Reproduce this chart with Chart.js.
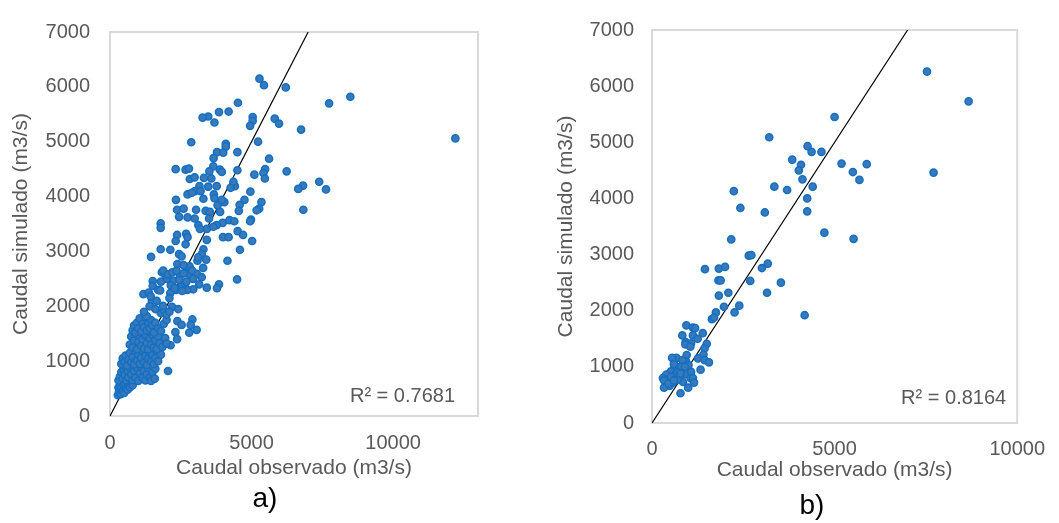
<!DOCTYPE html>
<html>
<head>
<meta charset="utf-8">
<script src="https://cdn.jsdelivr.net/npm/chart.js@4.4.0/dist/chart.umd.min.js"></script>
<style>
  body { margin: 0; background: #fff; width: 1059px; height: 523px; position: relative; overflow: hidden; }
  canvas { position: absolute; top: 0; }
  .tag { position: absolute; font-family: "Liberation Sans", Arial, sans-serif; font-size: 28px; color: #000; transform: translate(-50%, -50%); }
</style>
</head>
<body>
<canvas id="chartA" width="500" height="485" style="left:0"></canvas>
<canvas id="chartB" width="519" height="490" style="left:540px"></canvas>
<div class="tag" style="left:265px; top:498px">a)</div>
<div class="tag" style="left:812px; top:505px">b)</div>
<script>
// observed vs simulated discharge (m3/s), panel a
var obsA = [
  5280,5440,6210,8490,7740,4520,4190,3850,3470,3270,3690,5040,5040,4950,5820,5970,6750,12200,
  2870,5230,4090,4090,4500,3780,4000,3660,5620,2320,2670,2790,4500,5480,5420,5100,5470,6240,
  3650,3510,3880,3950,3320,3580,2820,2990,7390,6820,6650,7630,6830,3160,3470,3000,3200,2740,
  2890,3770,3670,3690,4410,4360,4260,4960,4750,4580,4550,5350,5270,5180,2330,2370,2600,3040,
  2440,2740,2990,3300,3380,3530,3500,3800,3890,4040,3950,3980,4220,4390,4980,4950,1790,1790,
  2370,2690,2740,2320,2670,3770,3650,3420,3120,3180,4510,4700,3990,4190,3420,5020,1790,2130,
  1450,2440,2530,2380,3300,3240,3090,3400,4150,4590,3110,3290,3070,3240,4490,3850,3420,3780,
  2940,2740,2810,2800,2470,2540,2730,2240,1830,1940,2000,1800,1510,1510,1880,2130,2340,1180,
  1370,1480,1440,2190,1790,1900,2100,2410,2910,2850,2800,3060,2380,2530,2310,2370,2140,2050,
  2050,2200,2350,2600,2450,2150,2650,2280,2550,1700,2600,2900,3150,2700,1770,2940,
  280,300,320,350,380,400,420,450,480,500,520,560,600,620,650,700,720,760,800,
  300,350,400,450,480,520,550,580,620,650,700,750,800,850,900,950,1000,1050,1100,1150,1200,
  1250,1300,1350,1400,1450,1500,1580,1600,
  400,450,500,550,600,650,700,750,800,850,900,950,1000,1050,1100,1150,1200,1250,1300,1350,
  1400,1450,1500,1550,1600,1650,1700,1800,
  700,750,800,850,900,950,1000,1050,1100,1150,1200,1250,1300,1350,1400,1450,1500,1550,1600,
  1650,1700,1750,1850,1950,2000,
  800,850,900,950,1000,1050,1100,1150,1200,1250,1300,1350,1400,1450,1500,1550,1600,1700,1800,
  1900,2000,1300,
  1200,1400,1600,1650,2000,1870,2100
];
var simA = [
  6150,6030,5990,5820,5700,5710,5550,5540,5460,5440,5350,5450,5380,5290,5420,5330,5220,5060,
  4990,5000,4960,4910,4810,4810,4800,4700,4690,4500,4490,4510,4480,4500,4430,4400,4330,4460,
  4550,4460,4490,4450,4340,4330,4320,4350,4270,4200,4140,4130,3760,4190,4180,4100,4100,4040,
  4070,4190,4040,3970,4190,4270,4160,4090,3940,3850,3740,3900,3780,3750,3940,3760,3780,3760,
  3630,3620,3600,3960,3740,3720,3600,3840,3720,3900,3940,3520,3570,3550,3580,3550,3510,3430,
  3300,3320,3260,3190,3130,3480,3450,3410,3480,3410,3370,3300,3260,3260,3210,3190,3040,3030,
  2900,2950,2910,2770,3040,2950,2830,2850,2830,3030,2890,2700,2590,2530,2490,2400,2340,2330,
  2310,2710,2730,2590,2560,2390,2300,2470,2620,2590,2500,2450,2460,2370,2650,2240,2300,2220,
  2250,2100,2180,1990,1880,1930,2150,1950,1760,1660,1520,1570,1730,1660,1530,1400,1290,820,
  2580,2620,2650,2600,2480,2380,2420,2330,2280,2300,2750,2650,2400,2450,2290,2500,
  380,520,450,560,400,500,620,450,560,420,600,500,640,480,580,520,650,600,560,
  650,720,800,680,850,750,900,650,820,700,880,760,650,820,700,880,640,780,900,700,820,
  650,760,880,700,640,800,680,860,
  950,1050,980,1100,920,1030,1150,980,1080,940,1180,1020,1120,950,1060,1190,980,1100,930,1050,
  1160,1000,1120,950,1060,1180,1000,1120,
  1300,1450,1250,1380,1500,1220,1350,1460,1280,1400,1230,1480,1330,1210,1420,1300,1480,1250,1380,
  1220,1450,1330,1260,1420,1320,
  1560,1650,1520,1700,1600,1780,1540,1680,1620,1800,1560,1700,1600,1750,1650,1520,1700,1600,1550,
  1680,1750,1820,
  1900,2000,1950,2100,1850,2010,1900
];

// panel b
var obsB = [
  7530,8670,5000,3210,4260,4370,4640,3840,4080,4020,4120,5190,5880,5500,5680,7710,3350,3700,
  4400,2240,4250,2420,3090,4250,4720,5520,2170,2650,2720,3010,3170,3530,3150,4180,1450,1830,
  2000,1820,1880,2690,1830,2090,2390,2260,1970,1750,1640,1700,940,1120,1180,830,1120,1390,
  1250,920,1070,1500,1440,1410,1260,1440,1560,1330,950,930,1000,670,550,830,740,610,520,390,
  300,650,740,850,920,1070,1060,1120,1150,850,570,430,480,330,330,990,780,700,520,
  915,1050,600,800,700,900,450,600,780
];
var simB = [
  6260,5730,5450,5090,4930,4830,4830,4690,4600,4500,4340,4620,4610,4470,4330,4460,4210,4150,
  4210,4130,4000,3830,3750,3770,3390,3280,3270,2980,2990,2760,2840,2500,2320,1920,2740,2750,
  2780,2540,2540,2530,2270,2320,2090,1970,2070,1970,1850,1880,1740,1700,1690,1560,1560,1600,
  1500,1440,1420,1410,1330,1220,1150,1120,1080,950,1210,1100,1030,1160,1160,1120,990,980,920,860,
  800,870,830,920,870,910,800,800,720,730,720,750,660,760,630,630,530,770,820,
  1400,1360,1050,1000,900,1000,700,760,880
];

var r2A = 0.7681;
var r2B = 0.8164;
var oneToOne = [0, 7000];
var xTicks = [0, 5000, 10000];
var yTicks = [0, 1000, 2000, 3000, 4000, 5000, 6000, 7000];

var FONT = '"Liberation Sans", Arial, sans-serif';
var GREY = '#595959';

function pairs(xs, ys) {
  return xs.map(function (x, i) { return { x: x, y: ys[i] }; });
}

function fixedTicks(list) {
  return function (s) { s.ticks = list.map(function (v) { return { value: v }; }); };
}

// light grey box round the plot area
var frame = {
  id: 'frame',
  beforeDatasetsDraw: function (chart) {
    var a = chart.chartArea, ctx = chart.ctx;
    ctx.save();
    ctx.strokeStyle = '#d9d9d9';
    ctx.lineWidth = 2;
    ctx.strokeRect(a.left, a.top, a.right - a.left, a.bottom - a.top);
    ctx.restore();
  }
};

// R² label in the lower right corner
var r2Label = {
  id: 'r2Label',
  afterDatasetsDraw: function (chart, args, opts) {
    var a = chart.chartArea, ctx = chart.ctx;
    ctx.save();
    ctx.font = '20px ' + FONT;
    ctx.fillStyle = GREY;
    ctx.textAlign = 'right';
    ctx.textBaseline = 'middle';
    ctx.fillText('R² = ' + opts.value.toFixed(4), a.right - opts.dx, a.bottom - opts.dy);
    ctx.restore();
  }
};

function plain(v) { return String(v); }

function makeChart(id, obs, sim, r2, cfg) {
  return new Chart(id, {
    type: 'scatter',
    data: {
      datasets: [{
        data: pairs(obs, sim),
        backgroundColor: '#3a78b8',
        borderColor: '#1170c4',
        borderWidth: 1.5,
        pointRadius: 3.6,
        order: 0
      }, {
        type: 'line',
        data: oneToOne.map(function (v) { return { x: v, y: v }; }),
        borderColor: '#000',
        borderWidth: 1.2,
        pointRadius: 0,
        fill: false,
        order: 1
      }]
    },
    options: {
      responsive: false,
      animation: false,
      layout: { padding: { top: 22, right: cfg.right, left: 0, bottom: 0 } },
      plugins: {
        legend: { display: false },
        tooltip: { enabled: false },
        r2Label: { value: r2, dx: cfg.r2dx, dy: cfg.r2dy }
      },
      scales: {
        x: {
          type: 'linear',
          min: 0,
          max: cfg.xMax,
          grid: { display: false, drawTicks: false },
          border: { display: false },
          afterBuildTicks: fixedTicks(xTicks),
          ticks: { padding: cfg.xPad, color: GREY, font: { family: FONT, size: 20 }, callback: plain },
          title: { display: true, text: 'Caudal observado (m3/s)', color: GREY, font: { family: FONT, size: 21 }, padding: { top: 0, bottom: cfg.xTitlePad } },
          afterFit: function (s) { s.height = cfg.xHeight; }
        },
        y: {
          type: 'linear',
          min: 0,
          max: 7000,
          grid: { display: false, drawTicks: false },
          border: { display: false },
          afterBuildTicks: fixedTicks(yTicks),
          ticks: { padding: cfg.yPad, color: GREY, font: { family: FONT, size: 20 }, callback: plain },
          title: { display: true, text: 'Caudal simulado (m3/s)', color: GREY, font: { family: FONT, size: 21 }, padding: { top: cfg.yTitlePad, bottom: 0 } },
          afterFit: function (s) { s.width = cfg.yWidth; }
        }
      }
    },
    plugins: [frame, r2Label]
  });
}

makeChart('chartA', obsA, simA, r2A, {
  xMax: 13000, right: 22, yWidth: 110, xHeight: 69, yPad: 20, xPad: 15,
  xTitlePad: 4, yTitlePad: 9, r2dx: 23, r2dy: 20
});
makeChart('chartB', obsB, simB, r2B, {
  xMax: 10000, right: 35, yWidth: 112, xHeight: 67, yPad: 18, xPad: 14,
  xTitlePad: 7, yTitlePad: 14, r2dx: 11, r2dy: 25
});
</script>
</body>
</html>
